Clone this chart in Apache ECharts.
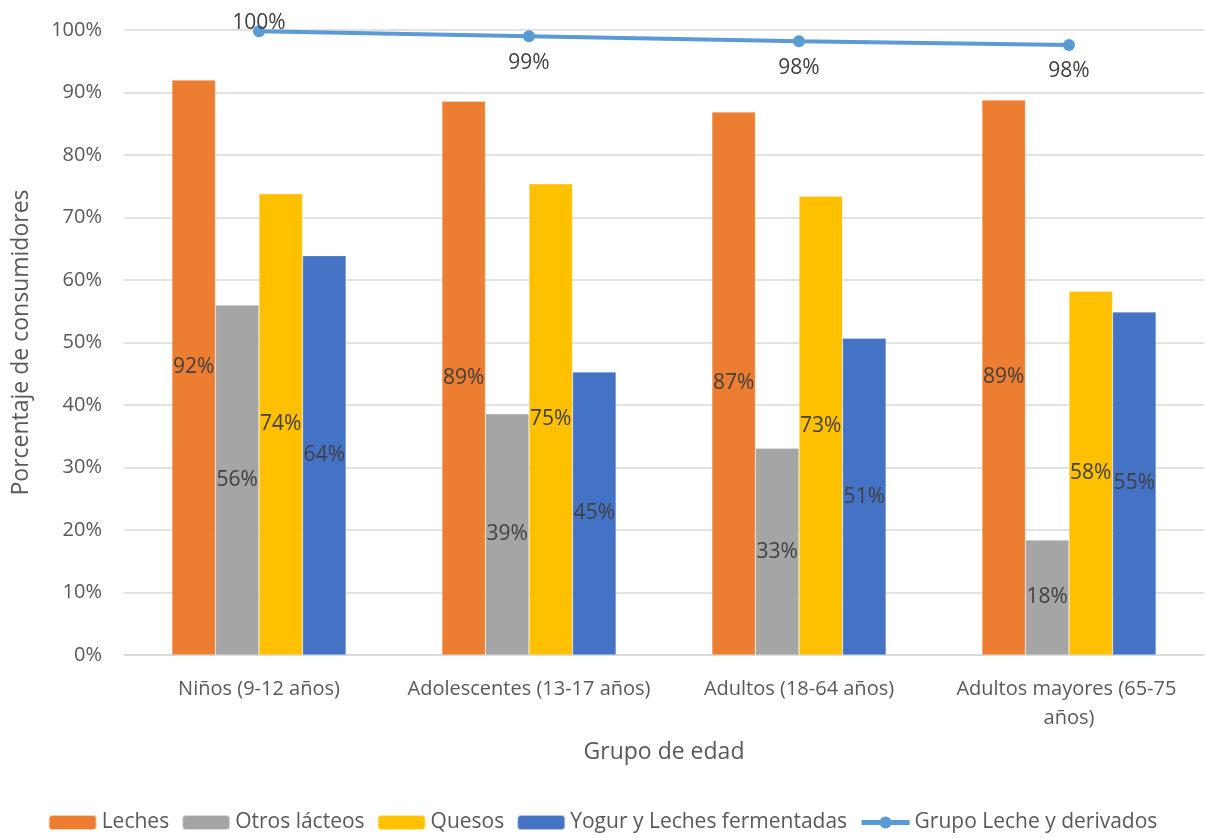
<!DOCTYPE html>
<html><head><meta charset="utf-8">
<script src="https://cdn.jsdelivr.net/npm/echarts@6/dist/echarts.min.js"></script>
<style>html,body{margin:0;padding:0;background:#fff}#c{width:1205px;height:838px}</style>
</head><body><div id="c"></div>
<script>
const categories = ['Niños (9-12 años)', 'Adolescentes (13-17 años)', 'Adultos (18-64 años)', 'Adultos mayores (65-75 años)'];
const leches = [92.0, 88.6, 86.9, 88.8];
const otrosLacteos = [56.0, 38.6, 33.1, 18.4];
const quesos = [73.8, 75.4, 73.4, 58.2];
const yogur = [63.9, 45.3, 50.7, 54.9];
const grupoLeche = [99.8, 99.0, 98.2, 97.6];
const yTicks = [0, 10, 20, 30, 40, 50, 60, 70, 80, 90, 100];

const FONT = '"Open Sans", "Noto Sans", sans-serif';
const pct = v => Math.round(v) + '%';
const chart = echarts.init(document.getElementById('c'));
const barLabel = {show: true, position: 'inside', color: '#404040', fontSize: 21, fontFamily: FONT,
  formatter: p => pct(p.value)};
function bar(name, data, color) {
  return {name, type: 'bar', data, barGap: '0%', barCategoryGap: '35.5%',
    itemStyle: {color, borderColor: 'rgba(255,255,255,0.6)', borderWidth: 0.5}, label: barLabel};
}
chart.setOption({
  animation: false,
  textStyle: {fontFamily: FONT},
  grid: {left: 124, right: 1, top: 30, bottom: 183, containLabel: false, outerBoundsMode: 'none'},
  legend: {bottom: 0, left: 'center', itemWidth: 48, itemHeight: 15, itemGap: 12,
    textStyle: {color: '#595959', fontSize: 21, fontFamily: FONT},
    data: ['Leches', 'Otros lácteos', 'Quesos', 'Yogur y Leches fermentadas',
      {name: 'Grupo Leche y derivados', lineStyle: {width: 5}}]},
  xAxis: {type: 'category', data: categories,
    name: 'Grupo de edad', nameLocation: 'middle', nameGap: 86,
    nameTextStyle: {color: '#595959', fontSize: 23, fontFamily: FONT},
    axisLine: {lineStyle: {color: '#d9d9d9', width: 1.5}}, axisTick: {show: false},
    axisLabel: {color: '#595959', fontSize: 20, margin: 20, width: 262, overflow: 'break', interval: 0, lineHeight: 29}},
  yAxis: {type: 'value', min: 0, max: 100, interval: 10,
    name: 'Porcentaje de consumidores', nameLocation: 'middle', nameGap: 91, nameRotate: 90,
    nameTextStyle: {color: '#595959', fontSize: 23, fontFamily: FONT},
    axisLine: {show: false}, axisTick: {show: false},
    axisLabel: {color: '#595959', fontSize: 20, margin: 22, formatter: v => yTicks.includes(v) ? v + '%' : ''},
    splitLine: {lineStyle: {color: '#d9d9d9', width: 1.5}}},
  series: [
    bar('Leches', leches, '#ed7d31'),
    bar('Otros lácteos', otrosLacteos, '#a5a5a5'),
    bar('Quesos', quesos, '#ffc000'),
    bar('Yogur y Leches fermentadas', yogur, '#4472c4'),
    {name: 'Grupo Leche y derivados', type: 'line', data: grupoLeche.map((v, i) => ({value: v,
        label: i === 0 ? {position: 'top', distance: 0, offset: [0, 8]} : {position: 'bottom', distance: 10}})),
      symbol: 'circle', symbolSize: 12, lineStyle: {color: '#5b9bd5', width: 4},
      itemStyle: {color: '#5b9bd5'},
      label: {show: true, color: '#404040', fontSize: 21, fontFamily: FONT, formatter: p => pct(p.value)}}
  ]
});
</script></body></html>
